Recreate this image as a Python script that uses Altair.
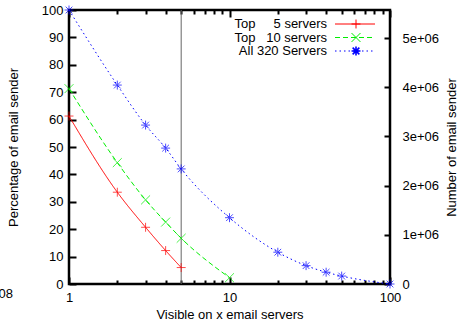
import altair as alt
import pandas as pd

# ---------------- data ----------------
SERIES = ["Top     5 servers", "Top   10 servers", "All 320 Servers"]
TOP5_X = [1, 2, 3, 4, 5]
TOP5_Y = [61.3, 33.5, 20.7, 12.2, 6.0]
TOP10_X = [1, 2, 3, 4, 5, 10]
TOP10_Y = [71.3, 44.3, 30.7, 22.6, 16.7, 2.3]
ALL_X = [1, 2, 3, 4, 5, 10, 20, 30, 40, 50, 100]
ALL_Y = [100, 72.6, 58.0, 49.6, 42.0, 24.2, 11.6, 6.7, 4.3, 2.9, 0]
TOTAL_SENDERS = 5570000
VLINE_X = [5]
X_MAJOR = [1, 10, 100]
X_MINOR = [2, 3, 4, 5, 6, 7, 8, 9, 20, 30, 40, 50, 60, 70, 80, 90]
Y_LEFT_TICKS = [0, 10, 20, 30, 40, 50, 60, 70, 80, 90, 100]
Y_RIGHT_TICKS = [0, 1000000, 2000000, 3000000, 4000000, 5000000]
STRAY_TEXT = ["08"]

# ---------------- styles ----------------
COLORS = ["#ff0000", "#00ee00", "#0000ff"]
DASHES = [[1, 0], [5, 3], [1.5, 3]]
SHAPES = [
    "M-1,0L1,0M0,-1L0,1",
    "M-1,-1L1,1M-1,1L1,-1",
    "M-1,0L1,0M0,-1L0,1M-0.75,-0.75L0.75,0.75M-0.75,0.75L0.75,-0.75",
]
MSW = [1, 1, 1.6]
FONT = "Liberation Sans"
FS = 13
W, H = 321, 274

rows = []
for name, xs_, ys_ in [(SERIES[0], TOP5_X, TOP5_Y), (SERIES[1], TOP10_X, TOP10_Y), (SERIES[2], ALL_X, ALL_Y)]:
    for x, y in zip(xs_, ys_):
        rows.append({"series": name, "x": x, "y": y})
df = pd.DataFrame(rows)

def xs():
    return alt.Scale(type="log", domain=[1, 100], nice=False)

def yl():
    return alt.Scale(domain=[0, 100], nice=False, zero=False)

def yr():
    return alt.Scale(domain=[0, TOTAL_SENDERS], nice=False, zero=False)

col = alt.Color("series:N", scale=alt.Scale(domain=SERIES, range=COLORS), legend=None)

lines = alt.Chart(df).mark_line(interpolate="monotone", strokeWidth=1).encode(
    x=alt.X("x:Q", scale=xs(), axis=None),
    y=alt.Y("y:Q", scale=yl(), axis=None),
    color=col,
    strokeDash=alt.StrokeDash("series:N", scale=alt.Scale(domain=SERIES, range=DASHES), legend=None),
)

points = alt.Chart(df).mark_point(filled=False, size=80, clip=False).encode(
    x=alt.X("x:Q", scale=xs(), axis=None),
    y=alt.Y("y:Q", scale=yl(), axis=None),
    color=col,
    shape=alt.Shape("series:N", scale=alt.Scale(domain=SERIES, range=SHAPES), legend=None),
    strokeWidth=alt.StrokeWidth("series:N", scale=alt.Scale(domain=SERIES, range=MSW), legend=None),
)

vline = alt.Chart(pd.DataFrame({"x": VLINE_X})).mark_rule(color="#666666", strokeWidth=1).encode(
    x=alt.X("x:Q", scale=xs(), axis=None)
)

dummy = pd.DataFrame({"x": [1, 100], "y": [0, 100], "n": [0, TOTAL_SENDERS]})

def axis_layer(xaxis, yaxis, right=False):
    return alt.Chart(dummy).mark_point(opacity=0).encode(
        x=alt.X("x:Q", scale=xs(), axis=xaxis),
        y=alt.Y("n:Q" if right else "y:Q", scale=yr() if right else yl(), axis=yaxis),
    )

common = dict(grid=False, domain=False, labelFont=FONT, titleFont=FONT,
              labelFontSize=FS, titleFontSize=FS, labelColor="black", titleColor="black",
              tickColor="black", titleFontWeight="normal")

ax_x_labels = alt.Axis(orient="bottom", values=X_MAJOR, ticks=False, labelPadding=7,
                       labelFlush=False, format="d", title="Visible on x email servers",
                       titlePadding=4, **common)
ax_y_labels = alt.Axis(orient="left", values=Y_LEFT_TICKS, ticks=False, labelPadding=6,
                       title="Percentage of email sender", titlePadding=21, **common)
ax_xb_major = alt.Axis(orient="top", offset=-H, values=X_MAJOR, labels=False, tickSize=7,
                       tickWidth=2, title=None, **common)
ax_yl_ticks = alt.Axis(orient="right", offset=-W, values=Y_LEFT_TICKS, labels=False, tickSize=7,
                       tickWidth=2, title=None, **common)
ax_xb_minor = alt.Axis(orient="top", offset=-H, values=X_MINOR, labels=False, tickSize=4,
                       tickWidth=2, title=None, **common)
ax_yr_labels = alt.Axis(orient="right", values=Y_RIGHT_TICKS, ticks=False, labelPadding=12,
                        labelExpr="datum.value == 0 ? '0' : format(datum.value / 1000000, 'd') + 'e+06'",
                        title="Number of email sender", titleAngle=270, titlePadding=20, **common)
ax_xt_major = alt.Axis(orient="bottom", offset=-H, values=X_MAJOR, labels=False, tickSize=7,
                       tickWidth=2, title=None, **common)
ax_yr_ticks = alt.Axis(orient="left", offset=-W, values=Y_RIGHT_TICKS, labels=False, tickSize=6,
                       tickWidth=2, title=None, **common)
ax_xt_minor = alt.Axis(orient="bottom", offset=-H, values=X_MINOR, labels=False, tickSize=4,
                       tickWidth=2, title=None, **common)

axes = [
    axis_layer(ax_x_labels, ax_y_labels),
    axis_layer(ax_xb_major, ax_yl_ticks),
    axis_layer(ax_xb_minor, ax_yr_labels, right=True),
    axis_layer(ax_xt_major, ax_yr_ticks, right=True),
    axis_layer(ax_xt_minor, None),
]

# manual key (gnuplot style: right-aligned label, then sample line with marker)
LEG_Y = [14, 27.5, 41]
legend_layers = []
for i, name in enumerate(SERIES):
    ldf = pd.DataFrame({"label": [name.replace(" ", "\u00a0")]})
    legend_layers.append(alt.Chart(ldf).mark_text(align="right", baseline="middle", font=FONT,
                                                  fontSize=FS, color="black").encode(
        x=alt.value(258), y=alt.value(LEG_Y[i]), text="label:N"))
    legend_layers.append(alt.Chart(ldf).mark_rule(color=COLORS[i], strokeWidth=1,
                                                  strokeDash=DASHES[i]).encode(
        x=alt.value(266), x2=alt.value(306), y=alt.value(LEG_Y[i])))
    legend_layers.append(alt.Chart(ldf).mark_point(shape=SHAPES[i], filled=False, size=80,
                                                   color=COLORS[i], strokeWidth=MSW[i], opacity=1).encode(
        x=alt.value(287), y=alt.value(LEG_Y[i])))

stray = alt.Chart(pd.DataFrame({"t": STRAY_TEXT})).mark_text(
    align="right", baseline="middle", font=FONT, fontSize=FS, color="black").encode(
    x=alt.value(-56), y=alt.value(284), text="t:N")

chart = alt.layer(*axes, vline, lines, points, *legend_layers, stray).resolve_scale(
    x="independent", y="independent"
).properties(
    width=W, height=H,
    padding={"left": 69, "top": 10, "right": 79, "bottom": 44},
    autosize=alt.AutoSizeParams(type="none"),
    background="white",
).configure_view(stroke="black", strokeWidth=2.5)

chart.save("out.html", embed_options={"renderer": "svg", "actions": False})
